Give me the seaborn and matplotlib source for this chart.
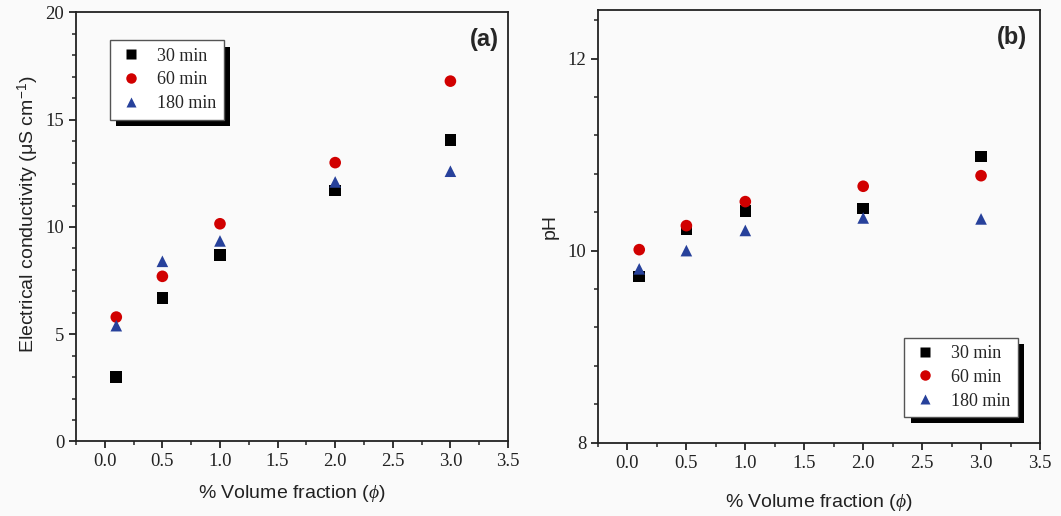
import matplotlib
matplotlib.use("Agg")
import matplotlib.pyplot as plt
import matplotlib.patheffects as pe
from matplotlib.ticker import MultipleLocator
import numpy as np
import pandas as pd
import seaborn as sns

# ---- data ----
fractions = [0.1, 0.5, 1.0, 2.0, 3.0]
series_names = ["30 min", "60 min", "180 min"]
cond_30 = [3.0, 6.7, 8.7, 11.7, 14.05]
cond_60 = [5.8, 7.7, 10.15, 13.0, 16.8]
cond_180 = [5.4, 8.4, 9.35, 12.1, 12.6]
ph_30 = [9.73, 10.22, 10.41, 10.44, 10.98]
ph_60 = [10.01, 10.26, 10.51, 10.67, 10.78]
ph_180 = [9.81, 10.0, 10.21, 10.34, 10.33]
xticks = [0.0, 0.5, 1.0, 1.5, 2.0, 2.5, 3.0, 3.5]

def long_df(a, b, c):
    rows = []
    for name, vals in zip(series_names, [a, b, c]):
        for x, v in zip(fractions, vals):
            rows.append({"phi": x, "val": v, "time": name})
    return pd.DataFrame(rows)

df_a = long_df(cond_30, cond_60, cond_180)
df_b = long_df(ph_30, ph_60, ph_180)

sns.set_theme(style="ticks")
plt.rcParams["font.family"] = ["Liberation Sans", "DejaVu Sans"]
plt.rcParams["mathtext.fontset"] = "custom"
plt.rcParams["mathtext.rm"] = "Liberation Sans"
plt.rcParams["mathtext.it"] = "Liberation Serif:italic"

palette = {"30 min": "#000000", "60 min": "#d10000", "180 min": "#27419b"}
markers = {"30 min": "s", "60 min": "o", "180 min": "^"}
bg = "#fafafa"
ink = "#222222"

fig = plt.figure(figsize=(10.61, 5.16), dpi=100, facecolor=bg)
ax1 = fig.add_axes([0.0716, 0.1444, 0.4072, 0.8314])
ax2 = fig.add_axes([0.5636, 0.1420, 0.4166, 0.8377])

serif = ["Liberation Serif", "DejaVu Serif"]

for ax, df in [(ax1, df_a), (ax2, df_b)]:
    ax.set_facecolor(bg)
    sns.scatterplot(data=df, x="phi", y="val", hue="time", style="time",
                    palette=palette, markers=markers, s=70, edgecolor="none",
                    ax=ax, zorder=3)
    ax.set_xlim(-0.25, 3.5)
    ax.set_xticks(xticks)
    ax.set_xticklabels([f"{t:.1f}" for t in xticks])
    ax.xaxis.set_minor_locator(MultipleLocator(0.25))
    for sp in ax.spines.values():
        sp.set_linewidth(1.3)
        sp.set_color(ink)
    ax.tick_params(which="major", direction="out", length=5, width=1.3,
                   labelsize=13.5, colors=ink)
    ax.tick_params(which="minor", direction="out", length=3, width=1.1,
                   colors=ink)

ax1.set_xlabel(r"% Volume fraction ($\phi$)", fontsize=14, labelpad=9, color=ink)
ax2.set_xlabel(r"% Volume fraction ($\phi$)", fontsize=14, labelpad=15, color=ink)

ax1.set_ylim(0, 20)
ax1.set_yticks([0, 5, 10, 15, 20])
ax1.yaxis.set_minor_locator(MultipleLocator(1))
ax1.set_ylabel(r"Electrical conductivity ($\mathrm{\mu}$S cm$^{-1}$)", fontsize=14,
               color=ink)
ax1.yaxis.set_label_coords(-0.08, 0.53)

ax2.set_ylim(8, 12.5)
ax2.set_yticks([8, 10, 12])
ax2.yaxis.set_minor_locator(MultipleLocator(0.4))
ax2.set_ylabel("pH", fontsize=14, color=ink, labelpad=6)

for ax in (ax1, ax2):
    for lab in ax.get_xticklabels() + ax.get_yticklabels():
        lab.set_fontfamily(serif)

ax1.text(0.98, 0.965, "(a)", transform=ax1.transAxes, ha="right", va="top",
         fontsize=17, fontweight="bold")
ax2.text(0.97, 0.965, "(b)", transform=ax2.transAxes, ha="right", va="top",
         fontsize=17, fontweight="bold")

for ax, loc, anchor in [(ax1, "upper left", (0.079, 0.935)),
                        (ax2, "lower right", (0.95, 0.06))]:
    leg = ax.legend(loc=loc, bbox_to_anchor=anchor, frameon=True, fancybox=False,
                    prop={"family": serif, "size": 13}, handletextpad=0.7,
                    borderpad=0.4, labelspacing=0.38, markerscale=0.9,
                    handlelength=1.5, borderaxespad=0, title=None)
    fr = leg.get_frame()
    fr.set_edgecolor("#555555")
    fr.set_linewidth(1.0)
    fr.set_facecolor("white")
    fr.set_alpha(1)
    fr.set_path_effects([pe.SimplePatchShadow(offset=(4.5, -4.5), shadow_rgbFace="black",
                                              alpha=1.0), pe.Normal()])

fig.savefig("out.png", dpi=100, facecolor=bg)
